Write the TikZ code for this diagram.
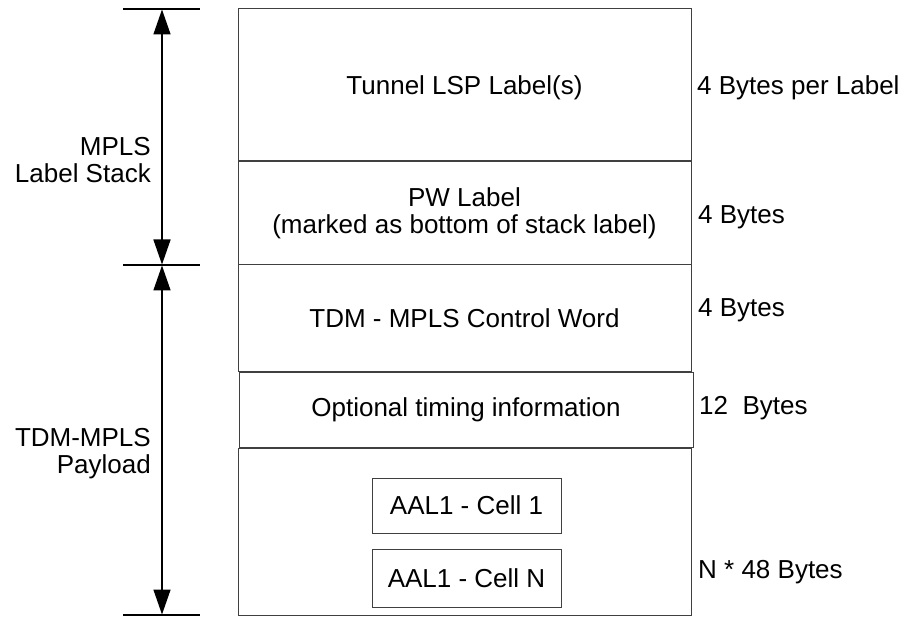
\documentclass[tikz,border=0pt]{standalone}
\usepackage{fontspec}
\setmainfont{Liberation Sans}
\usetikzlibrary{arrows.meta}
\begin{document}
\begin{tikzpicture}[x=1pt,y=-1pt,
  fld/.style={draw=black!75, line width=1pt, inner sep=0pt, align=center, font=\fontsize{26}{27}\selectfont},
  lbl/.style={inner sep=0pt, font=\fontsize{26}{27}\selectfont},
  tick/.style={line width=1.4pt},
  dim/.style={line width=1.6pt, {Triangle[length=25pt,width=17pt]}-{Triangle[length=25pt,width=17pt]}, shorten <=0.5pt, shorten >=0.5pt}
]
\useasboundingbox (0,0) rectangle (907,617);
% main stack
\node[fld, minimum width=453pt, minimum height=153pt] (tun) at (464.5,85) {};
\node[inner sep=0pt, font=\fontsize{26}{27}\selectfont] (tunt) at (464.5,88) {Tunnel LSP Label(s)};
\node[fld, minimum width=453pt, minimum height=104pt] (pw) at (464.5,213) {PW Label\\(marked as bottom of stack label)};
\node[fld, minimum width=453pt, minimum height=106pt] (cw) at (464.5,318) {TDM - MPLS Control Word};
\node[fld, minimum width=454pt, minimum height=75pt] (opt) at (466,409.5) {Optional timing information};
\node[fld, minimum width=453pt, minimum height=167pt] (pay) at (464.5,531.5) {};
\node[fld, minimum width=189pt, minimum height=55pt] (c1) at (466.5,505.5) {AAL1 - Cell 1};
\node[fld, minimum width=189pt, minimum height=58pt] (cn) at (466.5,578) {AAL1 - Cell N};
% sizes
\node[lbl, anchor=west] (s1) at (697,88) {4 Bytes per Label};
\node[lbl, anchor=west] (s2) at (698,217) {4 Bytes};
\node[lbl, anchor=west] (s3) at (698,310) {4 Bytes};
\node[lbl, anchor=west] (s4) at (699,408) {12\ \ Bytes};
\node[lbl, anchor=west] (s5) at (698,572) {N * 48 Bytes};
% left dimension
\coordinate (t1) at (123,9);
\coordinate (t1e) at (200,9);
\coordinate (t2) at (123,265);
\coordinate (t2e) at (200,265);
\coordinate (t3) at (123,615);
\coordinate (t3e) at (200,615);
\coordinate (a1) at (162,9);
\coordinate (a2) at (162,265);
\coordinate (a3) at (162,615);
\draw[tick] (t1) -- (t1e);
\draw[tick] (t2) -- (t2e);
\draw[tick] (t3) -- (t3e);
\draw[dim] (a1) -- (a2);
\draw[dim] (a2) -- (a3);
\node[lbl, align=right, anchor=east] (ml) at (151,160) {MPLS\\Label Stack};
\node[lbl, align=right, anchor=east] (tp) at (151,454) {TDM-MPLS\\Payload};
\end{tikzpicture}
\end{document}
